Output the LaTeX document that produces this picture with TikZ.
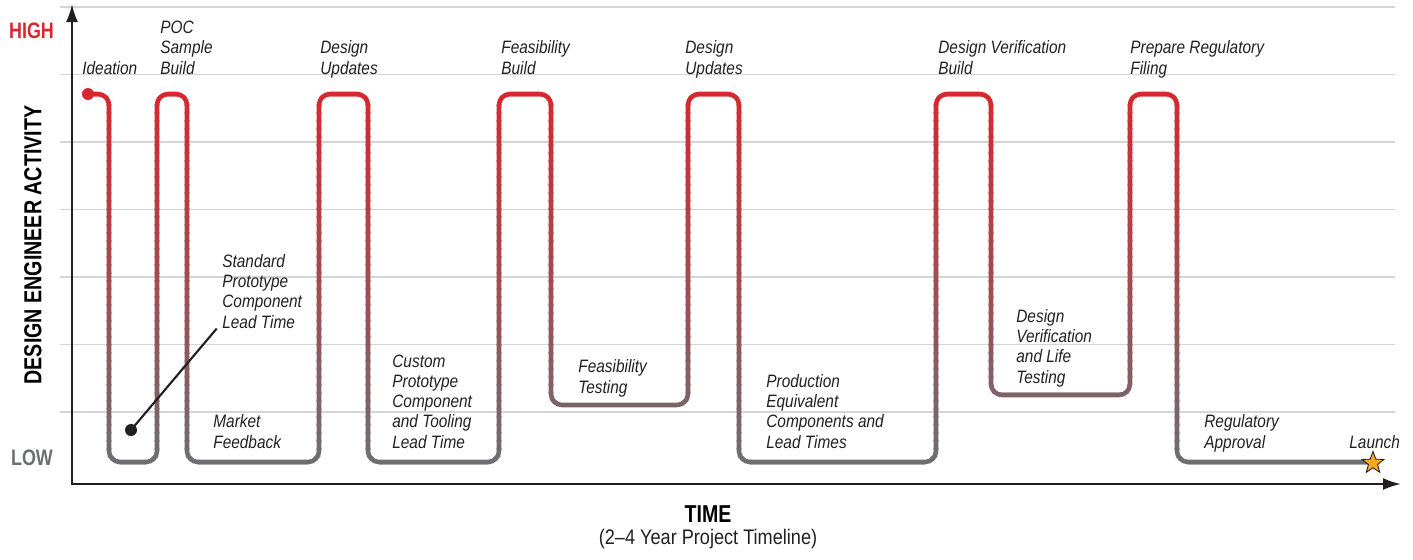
\documentclass[tikz,border=0pt]{standalone}
\usepackage{fontspec}
\setmainfont{Liberation Sans}[FakeStretch=0.86]
\newfontfamily\headfont{Liberation Sans}[FakeStretch=0.8]
\usepackage{xcolor}
\usetikzlibrary{positioning,shapes.geometric,arrows.meta}
\definecolor{hired}{HTML}{D7282F}
\definecolor{logray}{HTML}{6D6E71}
\definecolor{gridgray}{HTML}{D4D5D8}
\definecolor{textdark}{HTML}{231F20}
\definecolor{stargold}{HTML}{F6A821}
% activity curve, in pixel units
\newcommand\wavepath{(88,94) -- (109,94) -- (109,462) -- (157,462) -- (157,94) -- (187,94) -- (187,462)
  -- (319,462) -- (319,94) -- (368,94) -- (368,462) -- (499,462) -- (499,94) -- (551,94) -- (551,405)
  -- (688,405) -- (688,94) -- (739,94) -- (739,462) -- (936,462) -- (936,94) -- (991,94) -- (991,395)
  -- (1130,395) -- (1130,94) -- (1177,94) -- (1177,462) -- (1373,462)}

\begin{document}
\begin{tikzpicture}[
    x=0.02cm, y=-0.02cm,
    lab/.style={anchor=base west, align=left, inner sep=0pt, text=textdark, font=\itshape\fontsize{10.2}{11.5}\selectfont},
    head/.style={inner sep=0pt, font=\headfont\bfseries\fontsize{12.75}{14}\selectfont},
    gridline/.style={draw=gridgray, line width=0.6pt},
    axis/.style={{Latex[length=0.36cm,width=0.24cm]}-{Latex[length=0.36cm,width=0.24cm]}, line width=1.3pt, draw=textdark},
    wave/.style={line width=2.6pt, rounded corners=0.22cm, line cap=round},
    leader/.style={line width=1.2pt, draw=textdark}
]
\useasboundingbox (0,0) rectangle (1413,559);
% Grid
\foreach \gy in {7,74.5,142,209.5,277,344.5,412}
  \draw[gridline] (60,\gy) -- (1395,\gy);
% Axes
\coordinate (origin) at (72,484);
\coordinate (ytip) at (72,4);
\coordinate (xtip) at (1401,484);
\draw[axis] (ytip) -- (origin) -- (xtip);
% Axis labels
\node[head, text=hired] (high) at (31.5,31) {HIGH};
\node[head, text=logray] (low) at (32,458) {LOW};
\node[head, font=\headfont\bfseries\fontsize{14}{16}\selectfont, rotate=90] (activity) at (33,245) {DESIGN ENGINEER ACTIVITY};
\node[head, font=\headfont\bfseries\fontsize{13.9}{16}\selectfont] (time) at (708,514.5) {TIME};
\node[inner sep=0pt, text=textdark, font=\fontsize{12}{14}\selectfont] (timeline) at (708,539) {(2--4 Year Project Timeline)};
% Activity curve, shaded from red (high) to grey (low)
\foreach \i in {0,...,49} {
  \pgfmathsetmacro\ylo{80+8*\i}
  \pgfmathsetmacro\yhi{\ylo+9}
  \pgfmathtruncatemacro\pct{100*(1-min(1,max(0,(\ylo+4-94)/368)))}
  \begin{scope}
    \clip (0,\ylo) rectangle (1413,\yhi);
    \draw[wave, draw=hired!\pct!logray] \wavepath;
  \end{scope}
}
\node[circle, fill=hired, inner sep=0pt, minimum size=0.24cm] (startdot) at (88,94) {};
\node[star, star points=5, star point ratio=2.4, fill=stargold, draw=textdark, line width=0.5pt,
      inner sep=0pt, minimum size=0.46cm] (launchstar) at (1373,463) {};
% Phase labels (anchored at the last baseline)
\node[lab] (ideation) at (82,74) {Ideation};
\node[lab] (poc) at (160,74) {POC\\Sample\\Build};
\node[lab] (update1) at (320,74) {Design\\Updates};
\node[lab] (feasbuild) at (501,74) {Feasibility\\Build};
\node[lab] (update2) at (685,74) {Design\\Updates};
\node[lab] (dvbuild) at (938,74) {Design Verification\\Build};
\node[lab] (prepare) at (1130,74) {Prepare Regulatory\\Filing};
\node[lab] (stdproto) at (222,328) {Standard\\Prototype\\Component\\Lead Time};
\node[lab] (market) at (213,448) {Market\\Feedback};
\node[lab] (custom) at (392,448) {Custom\\Prototype\\Component\\and Tooling\\Lead Time};
\node[lab] (feastest) at (578,393) {Feasibility\\Testing};
\node[lab] (production) at (766,448) {Production\\Equivalent\\Components and\\Lead Times};
\node[lab] (dvtest) at (1016,383) {Design\\Verification\\and Life\\Testing};
\node[lab] (regapp) at (1204,448) {Regulatory\\Approval};
\node[lab] (launch) at (1349,448) {Launch};
% Leader to lead-time dot
\node[circle, fill=textdark, inner sep=0pt, minimum size=0.24cm] (stddot) at (131,430) {};
\draw[leader] (stddot.center) -- ([xshift=-3pt]stdproto.south west);
\end{tikzpicture}
\end{document}
